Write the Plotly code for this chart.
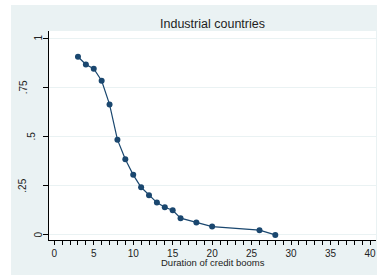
import plotly.graph_objects as go

duration = [3, 4, 5, 6, 7, 8, 9, 10, 11, 12, 13, 14, 15, 16, 18, 20, 26, 28]
share = [0.905, 0.866, 0.844, 0.783, 0.663, 0.484, 0.384, 0.305, 0.242, 0.201,
         0.164, 0.140, 0.125, 0.085, 0.063, 0.042, 0.024, 0.0]
y_tickvals = [0, 0.25, 0.5, 0.75, 1]
y_ticktext = ["0", ".25", ".5", ".75", "1"]
x_tickvals = [0, 5, 10, 15, 20, 25, 30, 35, 40]

BG = "#EAF2F3"
NAVY = "#1A476F"
FONT = "Liberation Sans, Arial, sans-serif"
L, R, T, B = 49, 1, 31, 35
PW, PH = 377 - L - R, 275 - T - B

fig = go.Figure()
fig.add_trace(go.Scatter(
    x=duration, y=share, mode="lines+markers",
    line=dict(color=NAVY, width=1.2),
    marker=dict(color=NAVY, size=6),
    showlegend=False, hoverinfo="skip",
))

# rotated y tick labels, placed like the original (shorter labels nearer the axis)
label_x_px = {1: 38.5, 2: 31.0, 3: 23.0}
annotations = []
for v, t in zip(y_tickvals, y_ticktext):
    annotations.append(dict(
        text=t, xref="paper", yref="y", x=(label_x_px[len(t)] - L) / PW, y=v,
        xanchor="center", yanchor="middle", textangle=-90, showarrow=False,
        font=dict(size=10, color="#222")))
annotations.append(dict(
    text="Duration of credit booms", xref="paper", yref="paper",
    x=0.5, y=(PH + T - 262) / PH, xanchor="center", yanchor="middle",
    showarrow=False, font=dict(size=9.5, color="#222")))

fig.update_layout(
    width=377, height=275,
    margin=dict(l=L, r=R, t=T, b=B, autoexpand=False),
    paper_bgcolor=BG, plot_bgcolor="white",
    font=dict(family=FONT, size=10, color="#222"),
    title=dict(text="Industrial countries", x=0.5, xanchor="center",
               xref="paper", y=1 - 23.5 / 275, yanchor="middle",
               font=dict(family=FONT, size=12.5, color="#1e1e1e")),
    xaxis=dict(
        range=[-0.67, 40.76], tickvals=x_tickvals, automargin=False,
        ticks="outside", ticklen=4, tickwidth=1, tickcolor="black",
        minor=dict(dtick=1, tick0=0, ticks="outside", ticklen=4, tickwidth=1,
                   tickcolor="black", showgrid=False),
        showline=True, linecolor="black", linewidth=1,
        showgrid=False, zeroline=False,
        tickfont=dict(size=10, color="#222"),
    ),
    yaxis=dict(
        range=[-0.026, 1.036], tickvals=y_tickvals, showticklabels=False,
        automargin=False,
        ticks="outside", ticklen=5, tickwidth=1, tickcolor="black",
        showline=True, linecolor="black", linewidth=1,
        showgrid=True, gridcolor=BG, gridwidth=1, zeroline=False,
    ),
    annotations=annotations,
    shapes=[
        dict(type="rect", xref="paper", yref="paper", layer="above",
             x0=-L / PW, x1=(11 - L) / PW, y0=-B / PH, y1=(PH + T) / PH,
             fillcolor="white", line=dict(width=0)),
        dict(type="rect", xref="paper", yref="paper", layer="above",
             x0=-L / PW, x1=1.01, y0=(PH + T - 5) / PH, y1=(PH + T) / PH,
             fillcolor="white", line=dict(width=0)),
    ],
)

fig.write_html(
    "out.html",
    config={"displayModeBar": False},
    post_script="document.body.style.margin='0';document.body.style.overflow='hidden';",
)
